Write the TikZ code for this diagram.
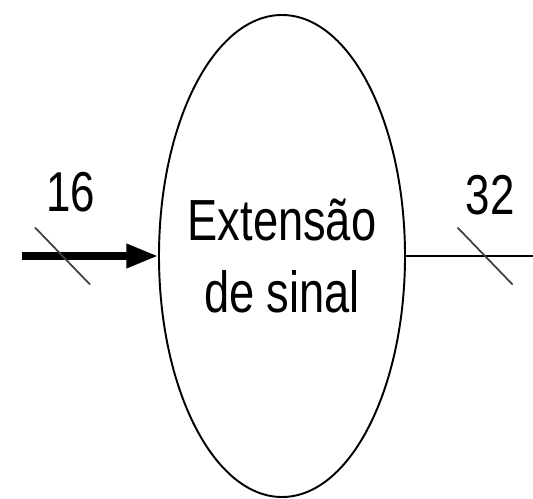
\documentclass[tikz,border=0pt]{standalone}
\usepackage{fontspec}
\setmainfont{Liberation Sans}
\newfontfamily\estreita[FakeStretch=0.78]{Liberation Sans}
\usetikzlibrary{arrows.meta,calc,shapes.geometric}

\begin{document}
\begin{tikzpicture}[>={Triangle[length=18pt,width=13pt]},
  bloco/.style={ellipse,draw,line width=1.1pt,minimum width=4.92cm,
    minimum height=9.64cm,inner sep=0pt},
  rotulo/.style={align=center,inner sep=0pt,
    font=\estreita\fontsize{33}{41.5}\selectfont},
  barra/.style={line width=1pt,black!75},
  largura/.style={font=\estreita\fontsize{32}{38}\selectfont,inner sep=0pt}]
  \useasboundingbox (0,0) rectangle (10.66,9.96);

  % bloco de extensao de sinal
  \node[bloco] (ext) at (5.64,4.84) {};
  \node[rotulo] (txt) at (ext.center) {Extensão\\de sinal};

  % barramento de entrada (16 bits)
  \coordinate (ent) at (0.44,4.84);
  \draw[->,line width=4pt] (ent) -- (ext.west);
  \coordinate (b16) at (1.25,4.84);
  \draw[barra] ($(b16)+(-0.55,0.57)$) -- ($(b16)+(0.55,-0.57)$);
  \node[largura,anchor=base] (w16) at (1.42,5.72) {16};

  % barramento de saida (32 bits)
  \coordinate (sai) at (10.66,4.84);
  \draw[line width=1.7pt] (ext.east) -- (sai);
  \coordinate (b32) at (9.70,4.84);
  \draw[barra] ($(b32)+(-0.55,0.57)$) -- ($(b32)+(0.55,-0.57)$);
  \node[largura,anchor=base] (w32) at (9.80,5.66) {32};
\end{tikzpicture}
\end{document}
